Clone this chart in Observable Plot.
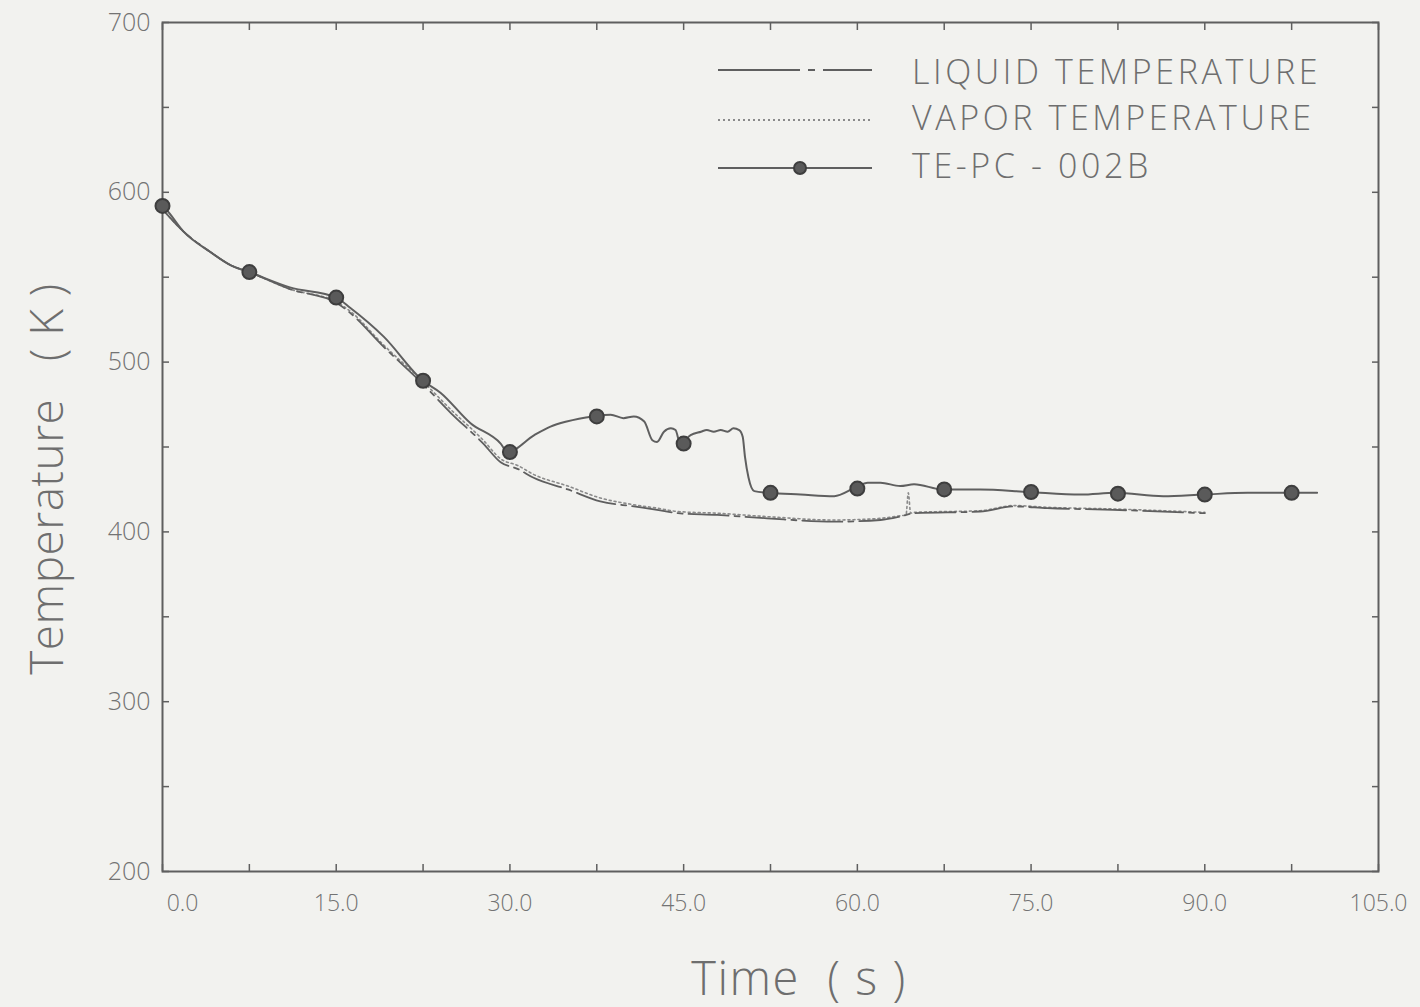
<!DOCTYPE html>
<html>
<head>
<meta charset="utf-8">
<script src="https://cdn.jsdelivr.net/npm/d3@7"></script>
<script src="https://cdn.jsdelivr.net/npm/@observablehq/plot@0.6"></script>
<style>
  html, body { margin: 0; padding: 0; background: #f2f2ef; }
  #wrap { position: relative; width: 1420px; height: 1007px; font-family: "Open Sans", sans-serif; font-weight: 300; color: #6e6e6e; }
  .lg-line { position: absolute; left: 718px; }
  .lg-text { position: absolute; left: 912px; font-size: 34px; letter-spacing: 3.6px; line-height: 1; white-space: pre; transform: translateY(-50%); }
  #ylab { position: absolute; left: 45px; top: 479px; font-size: 46px; letter-spacing: 0.5px; white-space: pre; transform: translate(-50%, -50%) rotate(-90deg); line-height: 1; }
  #xlab { position: absolute; left: 799px; top: 977px; font-size: 47px; letter-spacing: 1.5px; white-space: pre; transform: translate(-50%, -50%); line-height: 1; }
</style>
</head>
<body>
<div id="wrap"></div>
<script>
// ---- data (time in s, temperature in K) ----
const teTime = [0, 0.3, 1.8, 4.1, 5.9, 7.5, 11.0, 15.0, 16.2, 19.1, 22.5, 24.0, 26.6, 29.2, 29.8, 32.1, 33.5, 34.9, 37.2, 38.7, 39.8, 40.7, 41.6, 42.3, 42.7, 43.3, 43.9, 44.3, 44.7, 45.6, 46.5, 47.0, 47.6, 48.2, 48.8, 49.3, 49.8, 50.1, 50.3, 50.6, 51.1, 52.4, 55.1, 58.0, 59.8, 60.9, 62.0, 63.7, 64.9, 67.4, 70.6, 74.8, 79.3, 82.3, 86.4, 89.9, 93.7, 97.4, 99.7];
const teTemp = [592, 590, 577, 565, 557, 553, 544, 538, 532, 515, 489, 482, 464, 452, 447, 457, 462, 465, 468, 469, 467, 468, 465, 454, 453, 459, 461, 460, 452, 457, 459, 460, 459, 460, 459, 461, 460, 456, 444, 432, 424, 423, 422, 421, 426, 429, 429, 427, 428, 425, 425, 423.5, 422, 423, 421, 422, 423, 423, 423];

const markerTime = [0, 7.5, 15, 22.5, 30, 37.5, 45, 52.5, 60, 67.5, 75, 82.5, 90, 97.5];
const markerTemp = [592, 553, 538, 489, 447, 468, 452, 423, 425.5, 425, 423.5, 422.5, 422, 423];

const liqTime = [0, 1.8, 4.1, 5.9, 7.5, 11, 15, 16.2, 19.1, 22.5, 24.9, 27.7, 29.2, 30.7, 32, 35, 37.8, 40.7, 42.7, 44.5, 47.9, 52.2, 58, 62, 63.7, 64.9, 70.6, 73.5, 76.4, 82.1, 90];
const liqTemp = [590, 577, 565, 557, 553, 543, 535, 529, 509, 487, 470, 452, 441, 437, 432, 425, 418, 415, 413, 411, 410, 408, 406, 407, 409, 411, 412, 415, 414, 413, 411];

const vapTime = [0, 1.8, 4.1, 5.9, 7.5, 11, 15, 16.2, 19.1, 22.5, 24.9, 27.7, 29.2, 30.7, 32, 35, 37.8, 40.7, 42.7, 44.5, 47.9, 52.2, 58, 62, 63.7, 64.2, 64.4, 64.6, 64.9, 70.6, 73.5, 76.4, 82.1, 90];
const vapTemp = [590, 577, 565, 557, 553, 543, 535.5, 530, 510, 488.5, 472, 454, 443, 439, 434, 427, 420, 416, 414, 412, 411, 409, 407, 408, 409.5, 410, 423, 411, 411.5, 412.5, 415.5, 414.5, 413.5, 411.5];

const xMajor = [0, 15, 30, 45, 60, 75, 90, 105];
const xMinor = d3.range(0, 105.01, 7.5);
const yMajor = [200, 300, 400, 500, 600, 700];
const yMinor = d3.range(200, 700.01, 50);

const seriesLabels = ["LIQUID TEMPERATURE", "VAPOR TEMPERATURE", "TE-PC - 002B"];
const xTitle = "Time  ( s )";
const yTitle = "Temperature   ( K )";

const te = teTime.map((t, i) => ({t, v: teTemp[i]}));
const mk = markerTime.map((t, i) => ({t, v: markerTemp[i]}));
const liq = liqTime.map((t, i) => ({t, v: liqTemp[i]}));
const vap = vapTime.map((t, i) => ({t, v: vapTemp[i]}));

const ink = "#5f5f5f";
const txt = "#737373";
const fmt = d => d.toFixed(1);

const chart = Plot.plot({
  width: 1420,
  height: 1007,
  marginLeft: 162,
  marginRight: 42,
  marginTop: 22,
  marginBottom: 136,
  style: {background: "transparent", fontFamily: "Open Sans, sans-serif", fontWeight: 300},
  x: {domain: [0, 105]},
  y: {domain: [200, 700]},
  marks: [
    Plot.frame({stroke: ink, strokeWidth: 2}),
    Plot.axisX({anchor: "bottom", ticks: xMajor.filter(d => d > 0), tickSize: 0, tickPadding: 23, tickFormat: fmt, fontSize: 23, fill: txt, label: null}),
    Plot.axisX({anchor: "bottom", ticks: xMajor.filter(d => d === 0), tickSize: 0, tickPadding: 23, tickFormat: fmt, fontSize: 23, fill: txt, label: null, dx: 20}),
    Plot.axisX({anchor: "bottom", ticks: xMinor, tickSize: -7, tickFormat: () => "", stroke: ink, strokeWidth: 1.5, label: null}),
    Plot.axisX({anchor: "top", ticks: xMinor, tickSize: -7, tickFormat: () => "", stroke: ink, strokeWidth: 1.5, label: null}),
    Plot.axisY({anchor: "left", ticks: yMajor, tickSize: 0, tickPadding: 12, fontSize: 25, fill: txt, label: null}),
    Plot.axisY({anchor: "left", ticks: yMinor, tickSize: -7, tickFormat: () => "", stroke: ink, strokeWidth: 1.5, label: null}),
    Plot.axisY({anchor: "right", ticks: yMinor, tickSize: -7, tickFormat: () => "", stroke: ink, strokeWidth: 1.5, label: null}),
    Plot.line(vap, {x: "t", y: "v", stroke: "#8a8a8a", strokeWidth: 1.6, strokeDasharray: "2,3", curve: "monotone-x"}),
    Plot.line(liq, {x: "t", y: "v", stroke: ink, strokeWidth: 1.8, strokeDasharray: "40,6,5,6", curve: "monotone-x"}),
    Plot.line(te, {x: "t", y: "v", stroke: ink, strokeWidth: 2, curve: "monotone-x"}),
    Plot.dot(mk, {x: "t", y: "v", r: 7, fill: "#5a5a5a", stroke: "#3e3e3e", strokeWidth: 2})
  ]
});

const wrap = document.getElementById("wrap");
wrap.appendChild(chart);

// axis titles
const ylab = document.createElement("div");
ylab.id = "ylab"; ylab.textContent = yTitle; wrap.appendChild(ylab);
const xlab = document.createElement("div");
xlab.id = "xlab"; xlab.textContent = xTitle; wrap.appendChild(xlab);

// legend overlay
const legendStyle = [
  {dash: "82,8,7,8", marker: false, color: ink, lineY: 70, textY: 71},
  {dash: "2,3", marker: false, color: "#8a8a8a", lineY: 120, textY: 117},
  {dash: null, marker: true, color: ink, lineY: 168, textY: 165}
];
legendStyle.forEach((st, i) => {
  const svg = d3.create("svg").attr("class", "lg-line").attr("width", 154).attr("height", 20)
    .style("top", (st.lineY - 10) + "px");
  svg.append("line").attr("x1", 0).attr("x2", 154).attr("y1", 10).attr("y2", 10)
    .attr("stroke", st.color).attr("stroke-width", 1.8).attr("stroke-dasharray", st.dash);
  if (st.marker) svg.append("circle").attr("cx", 82).attr("cy", 10).attr("r", 6)
    .attr("fill", "#5a5a5a").attr("stroke", "#3e3e3e").attr("stroke-width", 2);
  wrap.appendChild(svg.node());
  const s = document.createElement("div");
  s.className = "lg-text";
  s.style.top = st.textY + "px";
  s.textContent = seriesLabels[i];
  wrap.appendChild(s);
});
</script>
</body>
</html>
